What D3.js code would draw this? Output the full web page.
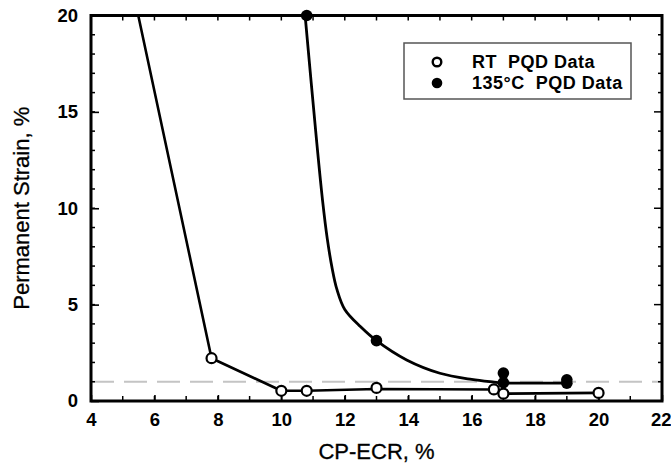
<!DOCTYPE html>
<html>
<head>
<meta charset="utf-8">
<script src="https://cdn.jsdelivr.net/npm/d3@7/dist/d3.min.js"></script>
<style>
  html, body { margin: 0; padding: 0; background: #fff; }
  svg { display: block; font-family: "Liberation Sans", Arial, sans-serif; }
</style>
</head>
<body>
<svg id="chart" width="671" height="466"></svg>
<script>
// ---- data ----
const xTickValues = [4, 6, 8, 10, 12, 14, 16, 18, 20, 22];
const yTickValues = [0, 5, 10, 15, 20];
const xTitle = "CP-ECR, %";
const yTitle = "Permanent Strain, %";
const legendLabels = ["RT  PQD Data", "135°C  PQD Data"];

// RT PQD data (open circles)
const rtX = [7.8, 10.0, 10.8, 13.0, 16.7, 17.0, 20.0];
const rtY = [2.22, 0.53, 0.53, 0.68, 0.6, 0.38, 0.42];
// RT trend line (starts above the plot top)
const rtLineX = [5.49, 7.8, 10.0, 10.8, 13.0, 16.7, 17.0, 20.0];
const rtLineY = [20, 2.22, 0.53, 0.53, 0.62, 0.6, 0.38, 0.42];

// 135°C PQD data (filled circles)
const hotX = [10.8, 13.0, 17.0, 17.0, 19.0, 19.0];
const hotY = [20, 3.13, 1.45, 0.95, 1.1, 0.92];
// 135°C trend curve
const hotCurveX = [10.75, 11.1, 11.3, 11.45, 11.6, 11.75, 12.0, 12.5, 13.0, 13.95, 15.0, 16.0, 16.7, 17.0];
const hotCurveY = [20, 13.7, 10.4, 8.4, 6.9, 5.8, 4.75, 3.85, 3.13, 2.13, 1.44, 1.12, 0.98, 0.93];
const hotFlatX = [17.0, 19.0];
const hotFlatY = [0.93, 0.93];

// reference line
const refLineY = 1;

// ---- layout ----
const svg = d3.select("#chart");
const L = 91, R = 662, T = 15.5, B = 401;
const x = d3.scaleLinear().domain([4, 22]).range([L, R]);
const y = d3.scaleLinear().domain([0, 20]).range([B, T]);

svg.append("defs").append("clipPath").attr("id", "plotclip")
  .append("rect").attr("x", L).attr("y", T).attr("width", R - L).attr("height", B - T);

// dashed reference line
svg.append("line")
  .attr("x1", L).attr("x2", R).attr("y1", y(refLineY)).attr("y2", y(refLineY))
  .attr("stroke", "#c4c4c4").attr("stroke-width", 2).attr("stroke-dasharray", "23,10");

const plot = svg.append("g").attr("clip-path", "url(#plotclip)");

const lineGen = d3.line().x(d => x(d[0])).y(d => y(d[1]));
const curveGen = d3.line().x(d => x(d[0])).y(d => y(d[1])).curve(d3.curveCatmullRom.alpha(0.5));

plot.append("path").datum(rtLineX.map((v, i) => [v, rtLineY[i]]))
  .attr("d", lineGen).attr("fill", "none").attr("stroke", "#000").attr("stroke-width", 2.6)
  .attr("stroke-linejoin", "round");
plot.append("path").datum(hotCurveX.map((v, i) => [v, hotCurveY[i]]))
  .attr("d", curveGen).attr("fill", "none").attr("stroke", "#000").attr("stroke-width", 2.8);
plot.append("path").datum(hotFlatX.map((v, i) => [v, hotFlatY[i]]))
  .attr("d", lineGen).attr("fill", "none").attr("stroke", "#000").attr("stroke-width", 2.8);

// axes (ticks inward)
const minorX = d3.range(4, 23, 1);
const minorY = d3.range(0, 21, 1);

const axB = d3.axisBottom(x).tickValues(xTickValues).tickSize(-6).tickPadding(12).tickFormat(d3.format("d"));
const axL = d3.axisLeft(y).tickValues(yTickValues).tickSize(-8).tickPadding(13).tickFormat(d3.format("d"));

const gB = svg.append("g").attr("transform", `translate(0,${B})`).call(axB);
const gL = svg.append("g").attr("transform", `translate(${L},0)`).call(axL);
[gB, gL].forEach(g => {
  g.select(".domain").remove();
  g.selectAll(".tick line").attr("stroke", "#000").attr("stroke-width", 1.6);
  g.selectAll(".tick text").attr("fill", "#000").attr("font-size", 18.5).attr("font-weight", "bold")
    .attr("font-family", "'Liberation Sans', Arial, sans-serif");
});
gB.selectAll(".tick text").attr("dy", "0.71em");
// keep the last label inside the page
gB.selectAll(".tick text").filter(d => d === 22).attr("text-anchor", "end").attr("dx", 9);

// minor ticks all sides
const minorGroup = svg.append("g").attr("stroke", "#000").attr("stroke-width", 1.5);
minorX.forEach(v => {
  minorGroup.append("line").attr("x1", x(v)).attr("x2", x(v)).attr("y1", B).attr("y2", B - 5);
  minorGroup.append("line").attr("x1", x(v)).attr("x2", x(v)).attr("y1", T).attr("y2", T + 5);
});
minorY.forEach(v => {
  const len = (v % 5 === 0) ? 8 : 4;
  minorGroup.append("line").attr("x1", L).attr("x2", L + 4).attr("y1", y(v)).attr("y2", y(v));
  minorGroup.append("line").attr("x1", R).attr("x2", R - len).attr("y1", y(v)).attr("y2", y(v));
});

// frame
svg.append("rect").attr("x", L).attr("y", T).attr("width", R - L).attr("height", B - T)
  .attr("fill", "none").attr("stroke", "#000").attr("stroke-width", 3);

// markers (not clipped)
svg.append("g").selectAll("circle").data(rtX.map((v, i) => [v, rtY[i]])).join("circle")
  .attr("cx", d => x(d[0])).attr("cy", d => y(d[1])).attr("r", 5)
  .attr("fill", "#fff").attr("stroke", "#000").attr("stroke-width", 2.2);
svg.append("g").selectAll("circle").data(hotX.map((v, i) => [v, hotY[i]])).join("circle")
  .attr("cx", d => x(d[0])).attr("cy", d => y(d[1])).attr("r", 5.8)
  .attr("fill", "#000");

// axis titles
svg.append("text").attr("x", (L + R) / 2).attr("y", 459).attr("text-anchor", "middle")
  .attr("font-size", 22).attr("fill", "#000").attr("stroke", "#000").attr("stroke-width", 0.3)
  .text(xTitle);
svg.append("text").attr("transform", `translate(29,${(T + B) / 2}) rotate(-90)`)
  .attr("text-anchor", "middle").attr("font-size", 22).attr("fill", "#000")
  .attr("stroke", "#000").attr("stroke-width", 0.3).text(yTitle);

// legend
const lg = svg.append("g");
lg.append("rect").attr("x", 404).attr("y", 43).attr("width", 227).attr("height", 56)
  .attr("fill", "#fff").attr("stroke", "#555").attr("stroke-width", 1.5);
lg.append("circle").attr("cx", 437).attr("cy", 62).attr("r", 4.3)
  .attr("fill", "#fff").attr("stroke", "#000").attr("stroke-width", 2.4);
lg.append("circle").attr("cx", 437).attr("cy", 83).attr("r", 5.3).attr("fill", "#000");
lg.append("text").attr("x", 472).attr("y", 68).attr("font-size", 18).attr("font-weight", "bold")
  .attr("letter-spacing", 0.5).attr("fill", "#000").style("white-space", "pre").text(legendLabels[0]);
lg.append("text").attr("x", 472).attr("y", 89).attr("font-size", 18).attr("font-weight", "bold")
  .attr("letter-spacing", 0.5).attr("fill", "#000").style("white-space", "pre").text(legendLabels[1]);
</script>
</body>
</html>
